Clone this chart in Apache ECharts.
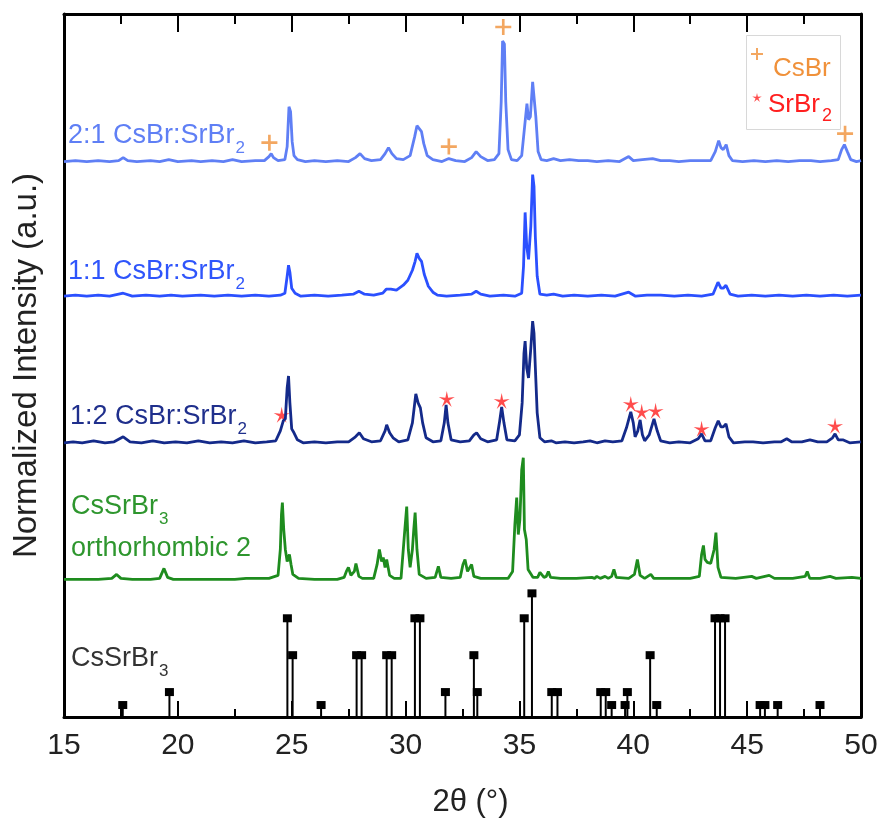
<!DOCTYPE html>
<html>
<head>
<meta charset="utf-8">
<title>XRD CsBr:SrBr2</title>
<script src="https://cdn.jsdelivr.net/npm/echarts@6/dist/echarts.min.js"></script>
<style>
html, body { margin: 0; padding: 0; background: #fff; }
#chart { width: 882px; height: 823px; }
</style>
</head>
<body>
<div id="chart"></div>
<script>
var FONT = '"Liberation Sans", Arial, sans-serif';

// [2theta, intensity above the pattern's own baseline]
var ratio21 = [[15,0],[15.5,1],[16,0],[16.5,1],[17,0],[17.4,1],[17.6,4],[17.8,1],[18.2,0],[18.8,1],[19.2,0],[19.6,2],[20,0],[20.6,1],[21,0],[21.5,1],[22,0],[22.4,2],[22.8,0],[23.4,1],[23.8,1],[24.0,5],[24.1,8],[24.2,4],[24.4,1],[24.7,2],[24.8,15],[24.88,55],[24.95,50],[25.02,20],[25.1,6],[25.25,2],[25.6,0],[26,1],[26.5,0],[27,1],[27.5,0],[27.8,4],[28.0,8],[28.2,3],[28.5,1],[28.9,2],[29.1,8],[29.25,14],[29.4,8],[29.6,3],[29.9,2],[30.2,6],[30.4,25],[30.5,36],[30.6,33],[30.7,30],[30.8,18],[30.95,6],[31.2,2],[31.6,0],[31.9,3],[32.2,1],[32.6,0],[32.9,4],[33.1,10],[33.3,5],[33.6,1],[33.9,2],[34.1,8],[34.2,60],[34.26,121],[34.34,118],[34.4,60],[34.5,12],[34.65,2],[34.9,1],[35.1,6],[35.25,40],[35.33,58],[35.4,42],[35.48,45],[35.58,80],[35.65,81],[35.72,45],[35.82,10],[35.95,2],[36.2,1],[36.5,3],[36.8,1],[37.2,2],[37.6,1],[38,1],[38.4,0],[38.9,1],[39.4,0],[39.8,5],[40,1],[40.4,2],[40.85,3],[41.2,1],[41.6,1],[42,0],[42.5,1],[43,1],[43.4,1],[43.6,10],[43.75,21],[43.85,14],[43.95,12],[44.08,17],[44.2,6],[44.35,1],[44.8,0],[45.3,1],[45.8,0],[46.3,1],[46.8,0],[47.3,1],[47.8,1],[48.2,0],[48.7,1],[49.0,2],[49.15,12],[49.27,17],[49.4,10],[49.55,2],[49.8,0],[50,1]];

var ratio11 = [[15,0],[15.5,1],[16,0],[16.5,1],[17,0],[17.6,3],[18,0],[18.6,1],[19.2,0],[19.7,1],[20.2,0],[21,1],[21.6,0],[22.2,1],[22.8,0],[23.4,1],[24,0],[24.5,1],[24.7,3],[24.8,20],[24.86,31],[24.92,24],[25.0,8],[25.15,3],[25.4,0],[26,1],[26.6,0],[27.2,1],[27.7,2],[27.95,5],[28.2,2],[28.6,1],[29.0,3],[29.15,7],[29.35,7],[29.6,6],[29.9,11],[30.1,16],[30.3,26],[30.42,35],[30.5,43],[30.6,38],[30.7,35],[30.82,22],[31.0,10],[31.2,4],[31.4,1],[31.8,0],[32.4,1],[32.9,2],[33.1,5],[33.3,2],[33.7,0],[34.3,1],[34.8,0],[35.1,3],[35.18,30],[35.25,84],[35.32,50],[35.4,37],[35.5,70],[35.58,122],[35.64,110],[35.7,59],[35.78,20],[35.9,2],[36.2,1],[36.5,2],[36.9,0],[37.4,1],[38,0],[38.6,1],[39.2,0],[39.8,4],[40.1,0],[40.6,1],[41.2,1],[41.8,0],[42.4,1],[43,0],[43.5,2],[43.72,14],[43.85,8],[43.95,8],[44.07,11],[44.25,2],[44.6,0],[45.2,1],[45.8,0],[46.4,1],[47,0],[47.6,1],[48.2,0],[48.8,1],[49.4,0],[50,1]];

var ratio12 = [[15,0],[15.4,1],[15.8,0],[16.3,2],[16.8,0],[17.2,1],[17.6,6],[17.9,1],[18.4,0],[18.9,2],[19.4,0],[19.9,1],[20.4,0],[20.9,2],[21.4,0],[21.9,1],[22.4,0],[22.9,2],[23.4,0],[23.9,1],[24.3,2],[24.5,12],[24.63,22],[24.72,24],[24.8,55],[24.86,67],[24.92,40],[25.0,14],[25.1,10],[25.25,3],[25.5,0],[26,1],[26.5,0],[27,1],[27.5,1],[27.8,6],[27.97,10],[28.15,4],[28.5,1],[28.9,2],[29.1,12],[29.17,18],[29.3,10],[29.45,5],[29.7,1],[30.1,3],[30.3,20],[30.45,49],[30.55,40],[30.65,35],[30.75,20],[30.9,5],[31.2,1],[31.55,2],[31.7,20],[31.78,38],[31.86,20],[32.0,3],[32.4,1],[32.8,2],[33.0,8],[33.12,10],[33.3,4],[33.6,1],[34.0,3],[34.12,20],[34.22,36],[34.32,20],[34.45,3],[34.8,2],[35.0,8],[35.12,40],[35.2,90],[35.25,102],[35.32,75],[35.4,65],[35.5,95],[35.58,122],[35.64,110],[35.7,75],[35.78,30],[35.9,5],[36.1,1],[36.4,2],[36.6,0],[37,1],[37.4,0],[37.8,1],[38.1,2],[38.4,0],[38.76,2],[39.1,1],[39.5,2],[39.7,15],[39.89,31],[40.0,20],[40.08,6],[40.2,12],[40.3,23],[40.4,8],[40.5,2],[40.7,8],[40.91,24],[41.05,12],[41.2,2],[41.6,0],[42,1],[42.5,0],[42.85,4],[43.0,9],[43.15,2],[43.4,2],[43.6,15],[43.73,22],[43.85,16],[43.95,16],[44.07,19],[44.2,6],[44.4,0],[44.9,1],[45.26,1],[45.7,0],[46.2,1],[46.5,1],[46.74,4],[46.95,1],[47.4,1],[47.76,3],[48.1,1],[48.5,1],[48.75,5],[48.86,9],[49.0,3],[49.2,3],[49.5,0],[50,1]];

var ortho2 = [[15,0],[16.5,0],[17.1,1],[17.31,5],[17.5,1],[18.0,0],[18.8,0],[19.2,1],[19.39,11],[19.55,2],[19.8,0],[21,0],[22.5,0],[23,1],[24.0,1],[24.4,4],[24.5,30],[24.55,65],[24.59,77],[24.65,50],[24.72,30],[24.8,18],[24.9,25],[24.97,15],[25.05,5],[25.3,1],[26,0],[27,0],[27.3,2],[27.4,8],[27.49,12],[27.6,4],[27.75,8],[27.82,16],[27.95,3],[28.1,1],[28.6,1],[28.75,15],[28.85,30],[28.95,18],[29.02,22],[29.1,12],[29.17,20],[29.3,4],[29.5,1],[29.8,1],[29.95,45],[30.05,73],[30.12,30],[30.2,12],[30.3,30],[30.36,50],[30.42,67],[30.5,30],[30.6,5],[30.9,1],[31.3,2],[31.44,13],[31.55,2],[32.0,1],[32.4,2],[32.52,15],[32.61,20],[32.72,8],[32.8,10],[32.9,15],[33.0,3],[33.3,1],[34.5,1],[34.7,8],[34.8,55],[34.88,82],[34.95,45],[35.02,60],[35.1,110],[35.17,122],[35.22,50],[35.3,40],[35.38,10],[35.6,2],[35.8,2],[35.9,7],[35.98,9],[36.08,2],[36.18,3],[36.27,8],[36.37,2],[36.8,1],[37.5,1],[38.18,2],[38.3,1],[38.4,3],[38.55,1],[38.76,3],[38.9,1],[39.05,3],[39.15,10],[39.25,2],[39.8,1],[40.05,5],[40.18,20],[40.3,4],[40.5,1],[40.77,5],[40.9,1],[41.5,1],[42.5,1],[42.9,3],[43.0,25],[43.08,34],[43.15,20],[43.25,17],[43.32,19],[43.4,16],[43.48,15],[43.55,30],[43.63,47],[43.72,12],[43.85,2],[44.5,1],[45.2,3],[45.4,1],[45.97,4],[46.2,1],[47.0,1],[47.55,3],[47.64,8],[47.75,1],[48.2,1],[48.64,3],[48.9,1],[49.6,2],[50,1]];

// CsSrBr3 reference pattern (stick positions and heights)
var refSticks = [[17.58,12],[19.63,25],[24.81,99],[25.04,62],[26.29,12],[27.85,62],[28.07,62],[29.17,62],[29.39,62],[30.41,99],[30.63,99],[31.75,25],[33.0,62],[33.15,25],[35.21,99],[35.55,124],[36.42,25],[36.67,25],[38.57,25],[38.79,25],[39.05,12],[39.64,12],[39.74,25],[40.74,62],[41.03,12],[43.59,99],[43.81,99],[44.03,99],[45.57,12],[45.78,12],[46.34,12],[48.2,12]];

// phase markers, heights above the marked pattern's baseline
var csbrMarks = [[24.02,19],[31.9,15],[34.29,135],[49.3,28]];
var srbr2Marks = [[24.56,28],[31.81,44],[34.22,42],[39.89,39],[40.37,31],[40.98,32],[43.0,14],[48.86,17]];

// vertical offsets of the stacked patterns
var base21 = 557, base11 = 422, base12 = 275, baseOrtho = 138;

var PLUS = 'path://M-1,-6L1,-6L1,-1L6,-1L6,1L1,1L1,6L-1,6L-1,1L-6,1L-6,-1L-1,-1Z';
var STAR = 'path://M0,-6L1,-1.38L5.7,-1.85L1.62,0.53L3.53,4.85L0,1.7L-3.53,4.85L-1.62,0.53L-5.7,-1.85L-1,-1.38Z';
// legend icons: the glyph sits in the upper part of a taller, otherwise empty box
var PLUS_KEY = 'path://M-1,-6L1,-6L1,-1L6,-1L6,1L1,1L1,6L-1,6L-1,1L-6,1L-6,-1L-1,-1Z M0,-6L0.01,-6Z M0,40L0.01,40Z';
var STAR_KEY = 'path://M0,-5L0.88,-1.21L4.76,-1.55L1.43,0.46L2.94,4.05L0,1.5L-2.94,4.05L-1.43,0.46L-4.76,-1.55L-0.88,-1.21Z M-6,-14.5L-5.99,-14.5Z M6,31.5L5.99,31.5Z';

function shift(points, dy) {
    return points.map(function (p) { return [p[0], p[1] + dy]; });
}

function drawStick(params, api) {
    var foot = api.coord([api.value(0), 0]);
    var top = api.coord([api.value(0), api.value(1)]);
    return {
        type: 'group',
        children: [
            { type: 'line', shape: { x1: foot[0], y1: foot[1], x2: top[0], y2: top[1] }, style: { stroke: '#000', lineWidth: 2 } },
            { type: 'rect', shape: { x: top[0] - 4.5, y: top[1] - 4, width: 9, height: 8 }, style: { fill: '#000' } }
        ]
    };
}

function traceLine(name, points, dy, color) {
    return {
        name: name, type: 'line', data: shift(points, dy),
        showSymbol: false, silent: true,
        lineStyle: { color: color, width: 2.8 },
        itemStyle: { color: color }
    };
}

function label(text, sub, x, y, color) {
    return {
        type: 'text', left: x, top: y,
        style: {
            text: '{m|' + text + '}' + (sub ? '{s|' + sub + '}' : ''),
            fill: color,
            rich: {
                m: { fontSize: 27, fontFamily: FONT, lineHeight: 30, verticalAlign: 'top' },
                s: { fontSize: 17, fontFamily: FONT, lineHeight: 17, verticalAlign: 'top', padding: [18, 0, 0, 1] }
            }
        }
    };
}

var chart = echarts.init(document.getElementById('chart'));
chart.setOption({
    animation: false,
    backgroundColor: '#fff',
    grid: { left: 64, right: 21, top: 14, bottom: 104 },
    xAxis: [
        {
            type: 'value', min: 15, max: 50, interval: 5, position: 'bottom',
            axisLine: { onZero: false, lineStyle: { color: '#000', width: 3 } },
            axisTick: { inside: true, length: 16, lineStyle: { color: '#000', width: 2 } },
            minorTick: { show: true, splitNumber: 2, length: 8, lineStyle: { color: '#000', width: 2 } },
            axisLabel: { fontSize: 30, color: '#222', fontFamily: FONT, margin: 14 },
            splitLine: { show: false },
            name: '2θ (°)', nameLocation: 'middle', nameGap: 70,
            nameTextStyle: { fontSize: 31, color: '#222', fontFamily: FONT, padding: [0, 0, 0, 16] }
        },
        {
            type: 'value', min: 15, max: 50, interval: 5, position: 'top',
            axisLine: { onZero: false, lineStyle: { color: '#000', width: 3 } },
            axisTick: { inside: true, length: 18, lineStyle: { color: '#000', width: 2 } },
            minorTick: { show: true, splitNumber: 2, length: 10, lineStyle: { color: '#000', width: 2 } },
            axisLabel: { show: false },
            splitLine: { show: false }
        }
    ],
    yAxis: [
        {
            type: 'value', min: 0, max: 705,
            axisLine: { show: true, onZero: false, lineStyle: { color: '#000', width: 3 } },
            axisTick: { show: false }, axisLabel: { show: false }, splitLine: { show: false },
            name: 'Normalized Intensity (a.u.)', nameLocation: 'middle', nameGap: 21,
            nameTextStyle: { fontSize: 33, color: '#222', fontFamily: FONT }
        },
        {
            type: 'value', min: 0, max: 705, position: 'right',
            axisLine: { show: true, onZero: false, lineStyle: { color: '#000', width: 3 } },
            axisTick: { show: false }, axisLabel: { show: false }, splitLine: { show: false }
        }
    ],
    legend: {
        left: 751, top: 48, orient: 'vertical', selectedMode: false,
        padding: 0, itemWidth: 12, itemHeight: 46, itemGap: -10.5,
        data: [
            { name: 'CsBr', icon: PLUS_KEY, itemStyle: { color: '#f0913a' }, textStyle: { color: '#f0913a' } },
            { name: 'SrBr2', icon: STAR_KEY, itemStyle: { color: '#ff1f1f' }, textStyle: { color: '#ff1f1f' } }
        ],
        formatter: function (name) {
            return name === 'SrBr2' ? '{m|SrBr}{s|2}' : '{c|CsBr}';
        },
        textStyle: {
            fontFamily: FONT,
            rich: {
                c: { fontSize: 26, fontFamily: FONT, lineHeight: 30, verticalAlign: 'top', padding: [0, 0, 0, 5] },
                m: { fontSize: 26, fontFamily: FONT, lineHeight: 30, verticalAlign: 'top' },
                s: { fontSize: 18, fontFamily: FONT, lineHeight: 18, verticalAlign: 'top', padding: [16, 0, 0, 2] }
            }
        }
    },
    graphic: [
        { type: 'rect', left: 746, top: 35, z: -1, shape: { width: 94, height: 94 }, style: { fill: '#fff', stroke: '#d8d8d8', lineWidth: 1 } },
        label('2:1 CsBr:SrBr', '2', 68, 122, '#5f7ff5'),
        label('1:1 CsBr:SrBr', '2', 68, 258, '#2f55fb'),
        label('1:2 CsBr:SrBr', '2', 70, 403, '#1f2f8c'),
        label('CsSrBr', '3', 71, 493, '#2e962e'),
        label('orthorhombic 2', '', 71, 535, '#2e962e'),
        label('CsSrBr', '3', 71, 645, '#333')
    ],
    series: [
        traceLine('2:1', ratio21, base21, '#5f7ff5'),
        traceLine('1:1', ratio11, base11, '#2b50ff'),
        traceLine('1:2', ratio12, base12, '#142a8a'),
        traceLine('orthorhombic 2', ortho2, baseOrtho, '#1e8c1e'),
        { name: 'CsSrBr3', type: 'custom', renderItem: drawStick, data: refSticks, silent: true },
        {
            name: 'CsBr', type: 'scatter', data: shift(csbrMarks, base21),
            symbol: PLUS, symbolSize: 16, itemStyle: { color: '#f0913a' }, silent: true
        },
        {
            name: 'SrBr2', type: 'scatter', data: shift(srbr2Marks, base12),
            symbol: STAR, symbolSize: 16, itemStyle: { color: '#ff1f1f' }, silent: true
        }
    ]
});
</script>
</body>
</html>
